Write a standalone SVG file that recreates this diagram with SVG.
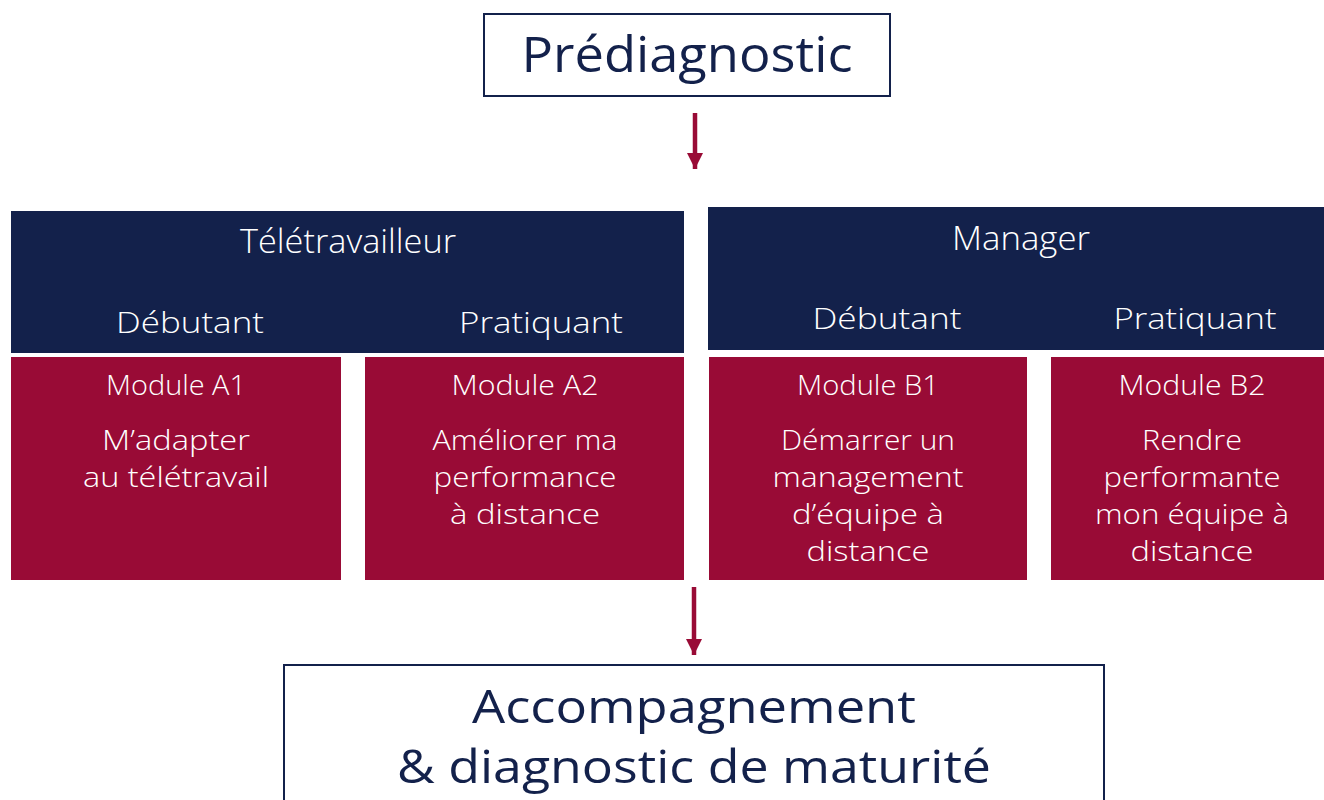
<svg xmlns="http://www.w3.org/2000/svg" width="1324" height="800" viewBox="0 0 1324 800">
<defs>
<marker id="ah" viewBox="0 0 16 16" refX="16" refY="8" markerWidth="16" markerHeight="16" markerUnits="userSpaceOnUse" orient="auto">
<path d="M0,0 L16,8 L0,16 Z" fill="#990B36"/>
</marker>
<style>
.outline{fill:#fff;stroke:#13214B;stroke-width:2}
.navy{fill:#13214B}
.red{fill:#990B36}
.t{font-family:"Open Sans",Lato,sans-serif;text-anchor:middle}
.dark{fill:#13214B}
.w{fill:#fff;font-weight:300}
.h{font-size:33px}
.s{font-size:30px}
.m{font-size:28px}
.conn{stroke:#990B36;stroke-width:4.5;fill:none}
</style>
</defs>
<rect width="1324" height="800" fill="#fff"/>
<g id="prediagnostic">
<rect class="outline" x="484" y="14" width="406" height="82"/>
<text class="t dark" x="687" y="72" font-size="50" textLength="331" lengthAdjust="spacingAndGlyphs">Prédiagnostic</text>
</g>
<g id="teletravailleur">
<rect class="navy" x="11" y="211" width="673" height="142"/>
<text class="t w h" x="348" y="253" textLength="216" lengthAdjust="spacingAndGlyphs">Télétravailleur</text>
<text class="t w s" x="190" y="333" textLength="148" lengthAdjust="spacingAndGlyphs">Débutant</text>
<text class="t w s" x="541" y="333" textLength="164" lengthAdjust="spacingAndGlyphs">Pratiquant</text>
</g>
<g id="manager">
<rect class="navy" x="708" y="207" width="616" height="143"/>
<text class="t w h" x="1021" y="250" textLength="138" lengthAdjust="spacingAndGlyphs">Manager</text>
<text class="t w s" x="887" y="329" textLength="149" lengthAdjust="spacingAndGlyphs">Débutant</text>
<text class="t w s" x="1195" y="329" textLength="163" lengthAdjust="spacingAndGlyphs">Pratiquant</text>
</g>
<g id="moduleA1">
<rect class="red" x="11" y="357" width="330" height="223"/>
<text class="t w m" x="176" y="395" textLength="140" lengthAdjust="spacingAndGlyphs">Module A1</text>
<text class="t w m" x="176" y="450" textLength="148" lengthAdjust="spacingAndGlyphs">M’adapter</text>
<text class="t w m" x="176" y="487" textLength="186" lengthAdjust="spacingAndGlyphs">au télétravail</text>
</g>
<g id="moduleA2">
<rect class="red" x="365" y="357" width="319" height="223"/>
<text class="t w m" x="525" y="395" textLength="147" lengthAdjust="spacingAndGlyphs">Module A2</text>
<text class="t w m" x="525" y="450" textLength="185" lengthAdjust="spacingAndGlyphs">Améliorer ma</text>
<text class="t w m" x="525" y="487" textLength="183" lengthAdjust="spacingAndGlyphs">performance</text>
<text class="t w m" x="525" y="524" textLength="150" lengthAdjust="spacingAndGlyphs">à distance</text>
</g>
<g id="moduleB1">
<rect class="red" x="709" y="357" width="318" height="223"/>
<text class="t w m" x="868" y="395" textLength="142" lengthAdjust="spacingAndGlyphs">Module B1</text>
<text class="t w m" x="868" y="450" textLength="174" lengthAdjust="spacingAndGlyphs">Démarrer un</text>
<text class="t w m" x="868" y="487" textLength="191" lengthAdjust="spacingAndGlyphs">management</text>
<text class="t w m" x="868" y="524" textLength="152" lengthAdjust="spacingAndGlyphs">d’équipe à</text>
<text class="t w m" x="868" y="561" textLength="123" lengthAdjust="spacingAndGlyphs">distance</text>
</g>
<g id="moduleB2">
<rect class="red" x="1051" y="357" width="273" height="223"/>
<text class="t w m" x="1192" y="395" textLength="147" lengthAdjust="spacingAndGlyphs">Module B2</text>
<text class="t w m" x="1192" y="450" textLength="100" lengthAdjust="spacingAndGlyphs">Rendre</text>
<text class="t w m" x="1192" y="487" textLength="177" lengthAdjust="spacingAndGlyphs">performante</text>
<text class="t w m" x="1192" y="524" textLength="194" lengthAdjust="spacingAndGlyphs">mon équipe à</text>
<text class="t w m" x="1192" y="561" textLength="123" lengthAdjust="spacingAndGlyphs">distance</text>
</g>
<g id="accompagnement">
<rect class="outline" x="284" y="665" width="820" height="150"/>
<text class="t dark" x="694" y="723" font-size="45" textLength="444" lengthAdjust="spacingAndGlyphs">Accompagnement</text>
<text class="t dark" x="694" y="783" font-size="45" textLength="594" lengthAdjust="spacingAndGlyphs">&amp; diagnostic de maturité</text>
</g>
<g id="connectors">
<line class="conn" x1="695" y1="113" x2="695" y2="169" marker-end="url(#ah)"/>
<line class="conn" x1="694" y1="587" x2="694" y2="655" marker-end="url(#ah)"/>
</g>
</svg>
